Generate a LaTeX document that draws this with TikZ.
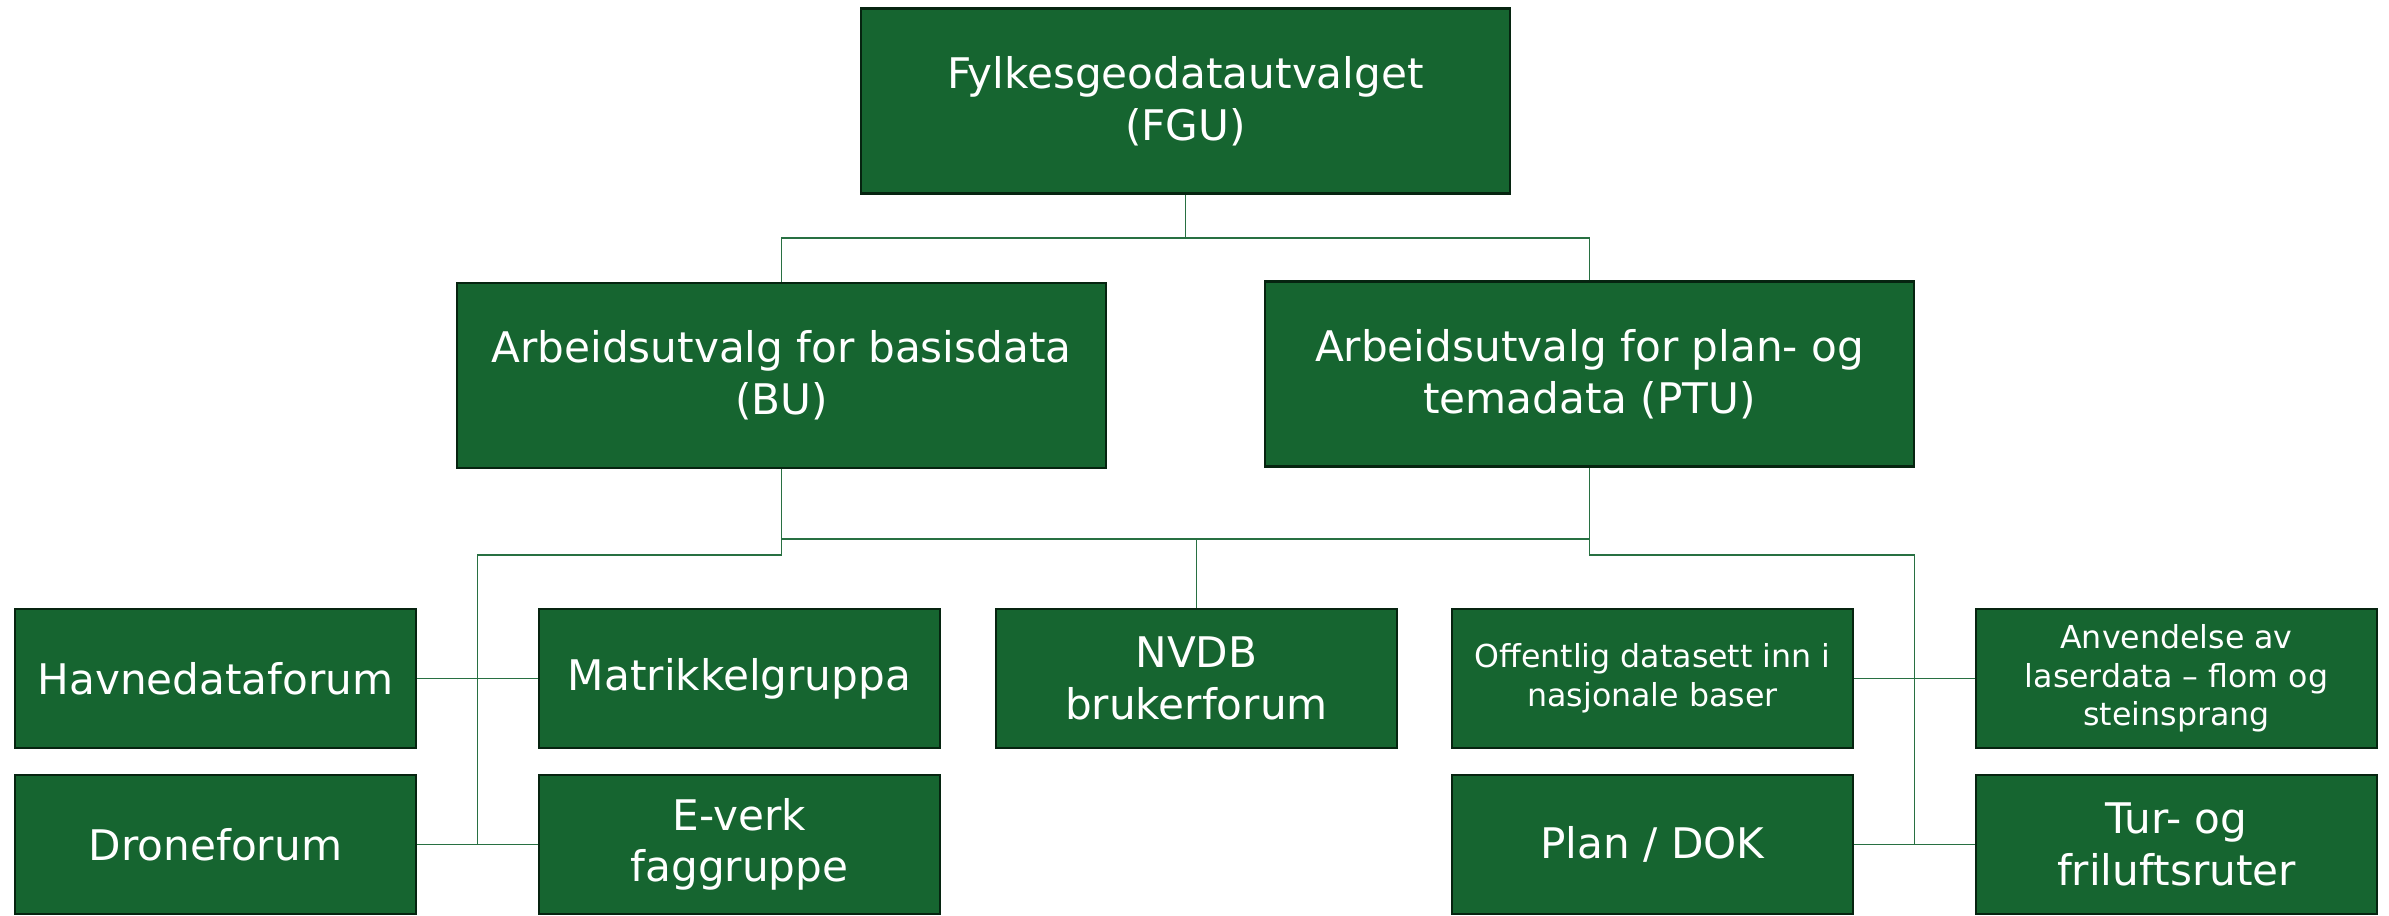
\documentclass[tikz,border=0pt]{standalone}
\usepackage{fontspec}
\setmainfont{DejaVu Sans}
\usepackage{tikz}
\usetikzlibrary{calc}
\definecolor{boxgreen}{RGB}{22,101,48}
\definecolor{boxline}{RGB}{6,36,16}
\definecolor{linegreen}{RGB}{40,112,66}

\begin{document}
\begin{tikzpicture}[
	unit/.style={draw=boxline, line width=0.75pt, fill=boxgreen, text=white, align=center, inner sep=0pt},
	bigunit/.style={unit, minimum width=6.49cm, minimum height=1.85cm, font=\fontsize{12}{14.7}\selectfont},
	forum/.style={unit, minimum width=4.01cm, minimum height=1.39cm, font=\fontsize{12}{14.7}\selectfont},
	smallforum/.style={forum, font=\fontsize{9}{11}\selectfont},
	conn/.style={draw=linegreen, line width=0.5pt}
	]
	\useasboundingbox (0,0) rectangle (23.89,9.16);
	
	%TOP
	\node[bigunit] (fgu) at (11.855,8.15) {Fylkesgeodatautvalget\\(FGU)};
	\node[bigunit] (bu)  at (7.815,5.405) {Arbeidsutvalg for basisdata\\(BU)};
	\node[bigunit] (ptu) at (15.895,5.42) {Arbeidsutvalg for plan- og\\temadata (PTU)};
	
	%FORUMS, first row
	\node[forum] (hav)  at (2.155,2.375)  {Havnedataforum};
	\node[forum] (mat)  at (7.395,2.375)  {Matrikkelgruppa};
	\node[forum] (nvdb) at (11.965,2.375) {NVDB\\brukerforum};
	\node[smallforum] (off) at (16.525,2.375) {Offentlig datasett inn i\\nasjonale baser};
	\node[smallforum] (anv) at (21.765,2.375) {Anvendelse av\\laserdata -- flom og\\steinsprang};
	%second row
	\node[forum] (drone) at (2.155,0.715)  {Droneforum};
	\node[forum] (everk) at (7.395,0.715)  {E-verk\\faggruppe};
	\node[forum] (plan)  at (16.525,0.715) {Plan / DOK};
	\node[forum] (tur)   at (21.765,0.715) {Tur- og\\friluftsruter};
	
	%JUNCTIONS
	\coordinate (topbar) at (11.855,6.78);
	\coordinate (nvdbbar) at (11.965,3.77);
	\coordinate (bubar) at ($(hav.east)!0.5!(mat.west)$);
	\coordinate (ptubar) at ($(off.east)!0.5!(anv.west)$);
	
	%CONNECTORS
	\draw[conn] (fgu.south) -- (topbar);
	\draw[conn] (bu.north) |- (topbar) -| (ptu.north);
	\draw[conn] (bu.south) |- (nvdbbar) -- (nvdb.north);
	\draw[conn] (ptu.south) |- (nvdbbar);
	\draw[conn] (bu.south) |- (bubar |- 0,3.61) -- (bubar |- drone.east);
	\draw[conn] (ptu.south) |- (ptubar |- 0,3.61) -- (ptubar |- plan.east);
	\draw[conn] (hav.east) -- (mat.west);
	\draw[conn] (drone.east) -- (everk.west);
	\draw[conn] (off.east) -- (anv.west);
	\draw[conn] (plan.east) -- (tur.west);
\end{tikzpicture}
\end{document}
